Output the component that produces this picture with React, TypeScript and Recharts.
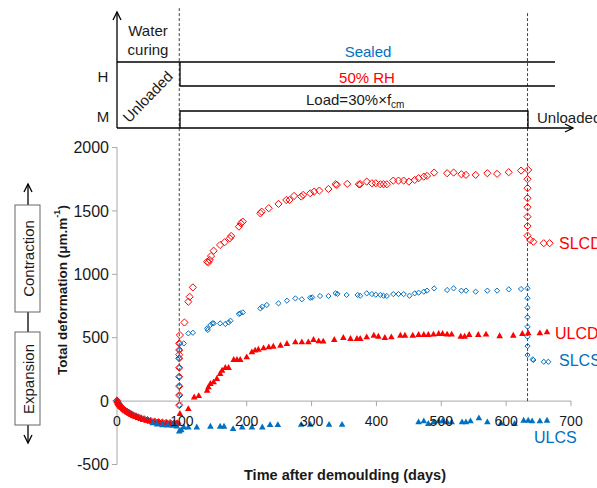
import { ReferenceLine, Scatter, ScatterChart, XAxis, YAxis } from "recharts";

const FONT = '"Liberation Sans", Arial, sans-serif';
const RED = "#ff0000";
const BLUE = "#0070c0";
const AXIS = "#a8a8a8";
const INK = "#1a1a1a";

// chart frame (px)
const W = 597;
const H = 488;
const LEFT = 117;
const TOP = 147.5;
const PLOT_W = 454;
const PLOT_H = 317;
const Y_MIN = -500;
const Y_MAX = 2000;
// pixel row of the value 0, where the x axis sits
const ZERO_Y = TOP + (PLOT_H * Y_MAX) / (Y_MAX - Y_MIN);

const xTicks = [0, 100, 200, 300, 400, 500, 600, 700];
const yTicks = [-500, 0, 500, 1000, 1500, 2000];
const loadDay = 96;
const unloadDay = 633;

// [day, µm/m] — common water-curing phase, all four specimens
const curing: [number, number][] = [
  [0, 5], [1, -10], [2, -20], [3, -28], [5, -40], [7, -50], [9, -60], [11, -68],
  [13, -76], [16, -86], [19, -95], [22, -104], [25, -112], [29, -120], [33, -128],
  [37, -136], [42, -143], [47, -150], [52, -156], [58, -161], [64, -166], [70, -169],
  [76, -171], [82, -173], [88, -175], [93, -176],
];

const slcd: [number, number][] = [
  [96, -32], [96, 47], [96, 118], [96, 192], [96, 263], [96, 337], [96, 366], [96, 403],
  [96, 455], [97, 521], [104, 620], [110, 784], [112, 823], [117, 897], [139, 1099],
  [141, 1094], [143, 1113], [145, 1144], [149, 1186], [159, 1231], [166, 1253], [174, 1284],
  [176, 1302], [188, 1376], [191, 1402], [194, 1415], [221, 1481], [223, 1494], [234, 1521],
  [249, 1555], [261, 1586], [266, 1586], [273, 1618], [284, 1613], [287, 1626], [298, 1639],
  [304, 1652], [312, 1660], [326, 1673], [337, 1710], [339, 1705], [355, 1713], [373, 1710],
  [375, 1710], [385, 1731], [393, 1718], [399, 1718], [406, 1710], [411, 1710], [416, 1710],
  [426, 1739], [434, 1739], [442, 1739], [450, 1731], [459, 1744], [465, 1758], [473, 1770],
  [478, 1776], [489, 1802], [509, 1797], [519, 1802], [531, 1789], [538, 1784], [553, 1784],
  [571, 1797], [586, 1792], [604, 1805], [623, 1818], [634, 1823],
  [633, 1750], [633, 1679], [633, 1600], [633, 1529], [633, 1455], [633, 1381], [633, 1305],
  [637, 1271], [642, 1257], [658, 1245], [667, 1245],
];

const slcs: [number, number][] = [
  [96, -32], [96, 47], [96, 118], [96, 192], [96, 263], [96, 337], [96, 403], [96, 455],
  [103, 455], [110, 534], [117, 539], [139, 574], [140, 561], [144, 600], [147, 613],
  [149, 613], [159, 613], [167, 608], [172, 620], [175, 634], [188, 687], [190, 692],
  [194, 700], [221, 731], [224, 745], [231, 758], [249, 771], [262, 792], [275, 810],
  [285, 803], [298, 815], [301, 818], [313, 829], [326, 829], [337, 850], [340, 845],
  [354, 837], [371, 837], [375, 831], [385, 850], [393, 844], [399, 839], [406, 837],
  [411, 831], [416, 829], [426, 844], [434, 844], [442, 844], [451, 831], [459, 850],
  [465, 855], [473, 863], [478, 871], [489, 889], [509, 876], [519, 889], [531, 871],
  [538, 871], [553, 863], [571, 871], [586, 871], [604, 881], [623, 884], [633, 889],
  [633, 811], [633, 737], [633, 661], [633, 587], [633, 508], [633, 434], [633, 363],
  [641, 329], [642, 324], [658, 310], [665, 310],
];

const ulcd: [number, number][] = [
  [97, -97], [110, -58], [119, 34], [126, 44], [139, 87], [141, 113], [144, 140], [149, 153],
  [154, 179], [159, 219], [162, 245], [167, 266], [172, 266], [180, 329], [185, 329],
  [190, 329], [200, 350], [208, 389], [213, 403], [218, 410], [226, 421], [234, 429],
  [241, 434], [252, 442], [262, 455], [275, 468], [285, 468], [295, 468], [303, 487],
  [311, 476], [318, 474], [335, 487], [349, 503], [360, 495], [370, 495], [375, 495],
  [385, 508], [396, 521], [403, 513], [413, 503], [423, 508], [437, 521], [444, 521],
  [456, 521], [465, 526], [473, 526], [480, 526], [488, 529], [496, 534], [502, 534],
  [509, 529], [516, 529], [530, 513], [536, 513], [543, 526], [557, 526], [569, 529],
  [590, 516], [611, 521], [625, 534], [634, 539], [652, 539], [663, 547],
];

const ulcs: [number, number][] = [
  [55, -170], [62, -180], [70, -185], [78, -188], [86, -190], [92, -195], [96, -235],
  [99, -225], [103, -203], [110, -203], [123, -203], [144, -197], [159, -197], [165, -197],
  [179, -216], [193, -203], [208, -203], [224, -203], [236, -184], [248, -184], [284, -182],
  [298, -182], [327, -182], [347, -182], [465, -163], [473, -155], [480, -176], [488, -163],
  [496, -155], [502, -155], [509, -163], [516, -163], [532, -163], [538, -163], [545, -155],
  [558, -131], [571, -163], [592, -171], [613, -176], [627, -150], [634, -150], [640, -155],
  [652, -155], [663, -150],
];

const toPoints = (rows: [number, number][]) => rows.map(([day, val]) => ({ day, val }));

const diamond = (r: number, color: string) => (p: any) => (
  <path
    d={`M${p.cx},${p.cy - r}L${p.cx + r},${p.cy}L${p.cx},${p.cy + r}L${p.cx - r},${p.cy}Z`}
    fill="none"
    stroke={color}
    strokeWidth={1}
  />
);

const triangle = (color: string) => (p: any) => (
  <path
    d={`M${p.cx},${p.cy - 3.3}L${p.cx + 3.3},${p.cy + 2.6}L${p.cx - 3.3},${p.cy + 2.6}Z`}
    fill={color}
  />
);

// x ticks are drawn on the zero line, not at the bottom of the plot
function renderXTick({ x, payload }: any) {
  return (
    <g>
      {payload.value !== 0 && (
        <line x1={x} x2={x} y1={ZERO_Y} y2={ZERO_Y + 5} stroke={AXIS} />
      )}
      <text
        x={x}
        y={ZERO_Y + 20}
        dy="0.355em"
        textAnchor="middle"
        fontSize={14}
        fontFamily={FONT}
        fill={INK}
      >
        {payload.value}
      </text>
    </g>
  );
}

function Sketch() {
  const txt = { fontFamily: FONT, fontSize: 15, fill: INK };
  return (
    <svg
      width={W}
      height={H}
      style={{ position: "absolute", left: 0, top: 0, pointerEvents: "none" }}
    >
      {/* exposure / loading schedule */}
      <g stroke="#000" strokeWidth={1.3} fill="none">
        <line x1={117} y1={12} x2={117} y2={128} />
        <polyline points="113,20 117,12 121,20" />
        <line x1={117} y1={128} x2={573} y2={128} />
        <polyline points="565,124 573,128 565,132" />
        <line x1={117} y1={62} x2={555} y2={62} />
        <polyline points="180,62 180,86 555,86" />
        <polyline points="180,128 180,111 528,111 528,128" />
      </g>
      <text {...txt} x={148} y={36} textAnchor="middle">Water</text>
      <text {...txt} x={148} y={55} textAnchor="middle">curing</text>
      <text {...txt} x={103} y={82} textAnchor="middle">H</text>
      <text {...txt} x={103} y={122} textAnchor="middle">M</text>
      <text {...txt} textAnchor="middle" dominantBaseline="central" transform="translate(147.5,96.5) rotate(-46)">
        Unloaded
      </text>
      <text {...txt} x={368} y={56.5} textAnchor="middle" fill={BLUE}>Sealed</text>
      <text {...txt} x={367} y={82.5} textAnchor="middle" fill={RED}>50% RH</text>
      <text {...txt} x={306} y={105}>
        Load=30%×f<tspan fontSize={10} dy={3}>cm</tspan>
      </text>
      <text {...txt} x={537} y={122.5}>Unloaded</text>

      {/* sign convention */}
      <g stroke="#000" strokeWidth={1.3} fill="none">
        <line x1={28} y1={184} x2={28} y2={205} />
        <polyline points="24,192 28,184 32,192" />
        <line x1={28} y1={312} x2={28} y2={332} />
        <line x1={28} y1={425} x2={28} y2={443} />
        <polyline points="24,435 28,443 32,435" />
      </g>
      <rect x={15} y={205} width={25} height={107} fill="#fff" stroke="#666" />
      <rect x={15} y={332} width={25} height={93} fill="#fff" stroke="#666" />
      <text {...txt} textAnchor="middle" dominantBaseline="central" transform="translate(28,258.5) rotate(-90)">
        Contraction
      </text>
      <text {...txt} textAnchor="middle" dominantBaseline="central" transform="translate(28,379) rotate(-90)">
        Expansion
      </text>

      {/* axis titles */}
      <text
        fontFamily={FONT}
        fontSize={13.5}
        fontWeight="bold"
        fill={INK}
        textAnchor="middle"
        dominantBaseline="central"
        transform="translate(62,290) rotate(-90)"
      >
        Total deformation (μm.m<tspan fontSize={9} dy={-5}>-1</tspan>
        <tspan dy={5}>)</tspan>
      </text>
      <text fontFamily={FONT} fontSize={14.5} fontWeight="bold" fill={INK} x={345} y={480} textAnchor="middle">
        Time after demoulding (days)
      </text>

      {/* series names */}
      <text fontFamily={FONT} fontSize={16} fill={RED} x={559} y={249}>SLCD</text>
      <text fontFamily={FONT} fontSize={16} fill={RED} x={555} y={338.5}>ULCD</text>
      <text fontFamily={FONT} fontSize={16} fill={BLUE} x={559} y={366}>SLCS</text>
      <text fontFamily={FONT} fontSize={16} fill={BLUE} x={534} y={443}>ULCS</text>
    </svg>
  );
}

export default function App() {
  return (
    <div style={{ position: "absolute", left: 0, top: 0, width: W, height: H, background: "#fff" }}>
      <ScatterChart
        width={W}
        height={H}
        margin={{ top: TOP, right: W - LEFT - PLOT_W, bottom: H - TOP - PLOT_H - 20, left: LEFT - 60 }}
      >
        <XAxis
          type="number"
          dataKey="day"
          domain={[0, 700]}
          ticks={xTicks}
          interval={0}
          height={20}
          axisLine={false}
          tickLine={false}
          tick={renderXTick}
        />
        <YAxis
          type="number"
          dataKey="val"
          domain={[Y_MIN, Y_MAX]}
          ticks={yTicks}
          interval={0}
          width={60}
          axisLine={{ stroke: AXIS }}
          tickLine={{ stroke: AXIS }}
          tickSize={5}
          tickMargin={3}
          tick={{ fontSize: 16, fontFamily: FONT, fill: INK }}
        />
        <ReferenceLine y={0} stroke={AXIS} />
        <ReferenceLine
          segment={[{ x: loadDay, y: 0 }, { x: loadDay, y: 3110 }]}
          ifOverflow="visible"
          stroke="#444"
          strokeDasharray="3 2"
        />
        <ReferenceLine
          segment={[{ x: unloadDay, y: 0 }, { x: unloadDay, y: 3070 }]}
          ifOverflow="visible"
          stroke="#444"
          strokeDasharray="3 2"
        />
        <Scatter data={toPoints([...curing, ...slcd])} shape={diamond(3.6, RED)} isAnimationActive={false} />
        <Scatter data={toPoints([...curing, ...slcs])} shape={diamond(2.6, BLUE)} isAnimationActive={false} />
        <Scatter data={toPoints([...curing, ...ulcd])} shape={triangle(RED)} isAnimationActive={false} />
        <Scatter data={toPoints(ulcs)} shape={triangle(BLUE)} isAnimationActive={false} />
      </ScatterChart>
      <Sketch />
    </div>
  );
}
